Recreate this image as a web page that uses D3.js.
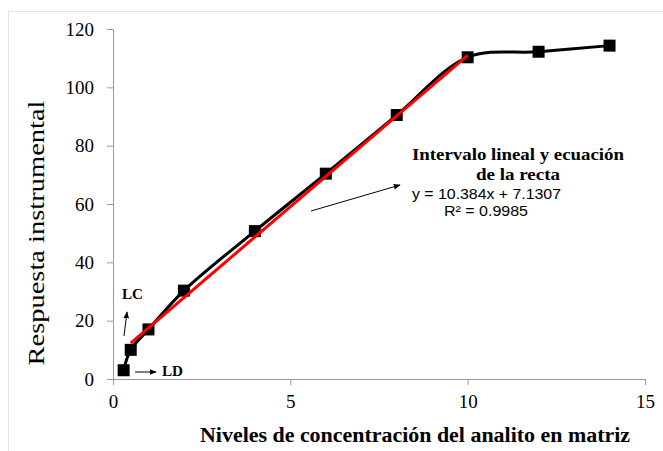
<!DOCTYPE html>
<html>
<head>
<meta charset="utf-8">
<script src="https://cdn.jsdelivr.net/npm/d3@7"></script>
<style>
  body { margin: 0; background: #fff; }
  svg { display: block; }
</style>
</head>
<body>
<svg id="chart"></svg>
<script>
// concentration levels and instrument response
const niveles = [0.3, 0.5, 1, 2, 4, 6, 8, 10, 12, 14];
const respuesta = [3, 10, 17, 30.3, 50.7, 70.4, 90.5, 110.3, 112.2, 114.3];
const xTicks = [0, 5, 10, 15];
const yTicks = [0, 20, 40, 60, 80, 100, 120];
// linear trend over the linear range
const pendiente = 10.384;
const intercepto = 7.1307;
const rangoLineal = [0.5, 10];

const W = 663, H = 451;
const margin = {top: 29, right: 18, bottom: 72, left: 113};
const width = W - margin.left - margin.right;
const height = H - margin.top - margin.bottom;

const svg = d3.select("#chart").attr("width", W).attr("height", H);

// outer chart border
svg.append("rect")
    .attr("x", 8.5).attr("y", 11.5)
    .attr("width", W).attr("height", H)
    .attr("fill", "none").attr("stroke", "#e4e4e4");

const g = svg.append("g").attr("transform", `translate(${margin.left},${margin.top})`);

const x = d3.scaleLinear().domain([0, 15]).range([0, width]);
const y = d3.scaleLinear().domain([0, 120]).range([height, 0]);

const serif = "'Liberation Serif', 'Times New Roman', Times, 'DejaVu Serif', serif";
const sans = "'Liberation Sans', Arial, sans-serif";

const xAxis = g.append("g")
    .attr("transform", `translate(0,${height})`)
    .call(d3.axisBottom(x).tickValues(xTicks).tickSize(6).tickPadding(10));
const yAxis = g.append("g")
    .call(d3.axisLeft(y).tickValues(yTicks).tickSize(6).tickPadding(13));
[xAxis, yAxis].forEach(a => {
    a.attr("font-family", null).attr("font-size", null);
    a.select(".domain").attr("stroke", "#9a9a9a");
    a.selectAll(".tick line").attr("stroke", "#9a9a9a");
    a.selectAll("text")
        .style("font-family", serif)
        .style("font-size", "19px")
        .attr("fill", "#000");
});

const pts = niveles.map((v, i) => [v, respuesta[i]]);

// smoothed black series
const line = d3.line()
    .x(d => x(d[0])).y(d => y(d[1]))
    .curve(d3.curveCatmullRom.alpha(0.5));
g.append("path")
    .attr("d", line(pts))
    .attr("fill", "none").attr("stroke", "#000").attr("stroke-width", 3);

g.selectAll(".marker")
    .data(pts)
    .enter().append("rect")
    .attr("class", "marker")
    .attr("x", d => x(d[0]) - 6).attr("y", d => y(d[1]) - 6)
    .attr("width", 12).attr("height", 12)
    .attr("fill", "#000");

// red trend line, drawn over the series
g.append("line")
    .attr("x1", x(rangoLineal[0])).attr("y1", y(pendiente * rangoLineal[0] + intercepto))
    .attr("x2", x(rangoLineal[1])).attr("y2", y(pendiente * rangoLineal[1] + intercepto))
    .attr("stroke", "#ff0000").attr("stroke-width", 3);

// arrowhead
svg.append("defs").append("marker")
    .attr("id", "head").attr("viewBox", "0 0 10 10")
    .attr("refX", 9).attr("refY", 5)
    .attr("markerWidth", 7).attr("markerHeight", 7)
    .attr("orient", "auto")
    .append("path").attr("d", "M0,1 L10,5 L0,9 Z").attr("fill", "#000");

function flecha(x1, y1, x2, y2) {
    svg.append("line")
        .attr("x1", x1).attr("y1", y1).attr("x2", x2).attr("y2", y2)
        .attr("stroke", "#000").attr("stroke-width", 1)
        .attr("marker-end", "url(#head)");
}
flecha(124, 336, 127, 312);
flecha(135, 372, 156, 372);
flecha(311, 211, 400, 185);

function texto(tx, ty, s, fam, size, bold, len, anchor) {
    const t = svg.append("text").attr("x", tx).attr("y", ty)
        .style("font-family", fam).style("font-size", size + "px")
        .style("font-weight", bold ? "bold" : "normal")
        .attr("text-anchor", anchor || "start")
        .text(s);
    if (len) t.attr("textLength", len).attr("lengthAdjust", "spacingAndGlyphs");
    return t;
}

texto(122, 299, "LC", serif, 14, true, 21);
texto(162, 376, "LD", serif, 14, true, 21);

texto(518, 160, "Intervalo lineal y ecuación", serif, 16, true, 212, "middle");
texto(518, 180, "de la recta", serif, 16, true, 84, "middle");
texto(412, 199, "y = 10.384x + 7.1307", sans, 14, false, 149);
texto(444, 216, "R² = 0.9985", sans, 14, false, 84);

// axis titles
svg.append("text")
    .attr("transform", "translate(44,233) rotate(-90)")
    .attr("text-anchor", "middle")
    .style("font-family", serif).style("font-size", "24px")
    .attr("textLength", 265).attr("lengthAdjust", "spacingAndGlyphs")
    .text("Respuesta instrumental");
texto(415, 442, "Niveles de concentración del analito en matriz", serif, 20, true, 430, "middle");
</script>
</body>
</html>
